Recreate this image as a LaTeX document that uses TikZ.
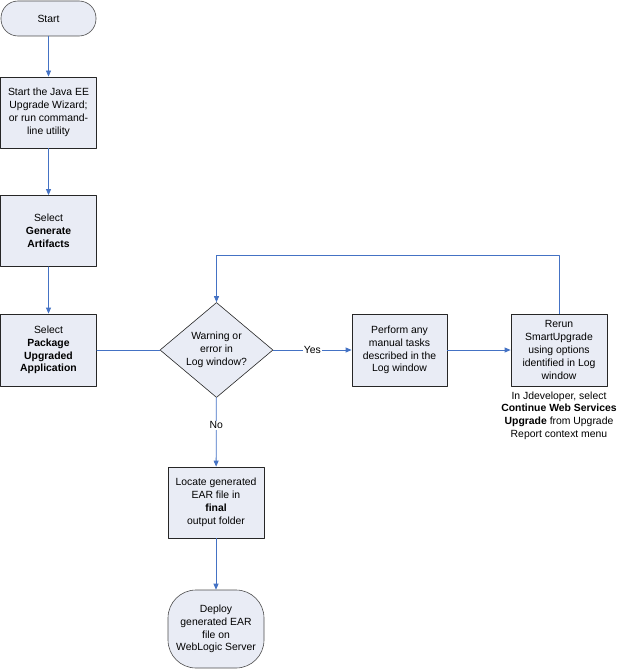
\documentclass[tikz,border=0pt]{standalone}
\usepackage{fontspec}
\setmainfont{Liberation Sans}
\usetikzlibrary{shapes.geometric,arrows.meta,positioning}
\definecolor{boxfill}{RGB}{233,236,245}
\definecolor{flowblue}{RGB}{68,114,196}
\tikzset{
  basefont/.style={font=\fontsize{10.4}{12.8}\selectfont},
  stepbox/.style={basefont,draw=black!85,fill=boxfill,line width=0.8pt,minimum width=96pt,minimum height=71pt,align=center,inner sep=1pt},
  terminal/.style={basefont,draw=black!70,fill=boxfill,line width=0.6pt,align=center,inner sep=1pt},
  decision/.style={basefont,diamond,draw=black!85,fill=boxfill,line width=0.6pt,aspect=1.2,minimum width=113pt,minimum height=95pt,align=center,inner sep=0pt},
  flow/.style={draw=flowblue,line width=0.8pt,-{Triangle[length=6pt,width=5pt]}},
  link/.style={draw=flowblue,line width=0.8pt},
  tag/.style={basefont,fill=white,inner sep=1pt}
}
\begin{document}
\begin{tikzpicture}[x=1pt,y=-1pt,line cap=round,line join=round]
  \useasboundingbox (0,0) rectangle (621,669);
  % left column
  \node[terminal,minimum width=95pt,minimum height=35pt,rounded corners=17pt] (start) at (48.5,18.5) {Start};
  \node[stepbox] (wizard) at (48.5,112.5) {Start the Java EE\\Upgrade Wizard;\\or run command-\\line utility};
  \node[stepbox] (generate) at (48.5,231) {Select\\\textbf{Generate}\\\textbf{Artifacts}};
  \node[stepbox,minimum height=72pt] (package) at (48.5,350) {Select\\\textbf{Package}\\\textbf{Upgraded}\\\textbf{Application}};
  % decision row
  \node[decision] (check) at (216.5,350) {Warning or\\error in\\Log window?};
  \node[stepbox,minimum width=95pt,minimum height=72pt] (manual) at (399.5,350) {Perform any\\manual tasks\\described in the\\Log window};
  \node[stepbox,minimum height=72pt] (rerun) at (559,350) {Rerun\\SmartUpgrade\\using options\\identified in Log\\window};
  \node[basefont,align=center,below=4pt of rerun,inner sep=1pt] (hint) {In Jdeveloper, select\\\textbf{Continue Web Services}\\\textbf{Upgrade} from Upgrade\\Report context menu};
  % bottom column
  \node[stepbox] (locate) at (216,502.5) {Locate generated\\EAR file in\\\textbf{final}\\output folder};
  \node[terminal,minimum width=96pt,minimum height=78pt,rounded corners=28pt] (deploy) at (216,629) {Deploy\\generated EAR\\file on\\WebLogic Server};
  % connectors
  \draw[flow] (start) -- (wizard);
  \draw[flow] (wizard) -- (generate);
  \draw[flow] (generate) -- (package);
  \draw[link] (package) -- (check);
  \draw[flow] (check) -- node[tag] {Yes} (manual);
  \draw[flow] (manual) -- (rerun);
  \draw[flow] (rerun.north) -- ++(0,-58) -| (check.north);
  \draw[flow] (check) -- node[tag,pos=0.4] {No} (locate);
  \draw[flow] (locate) -- (deploy);
\end{tikzpicture}
\end{document}
